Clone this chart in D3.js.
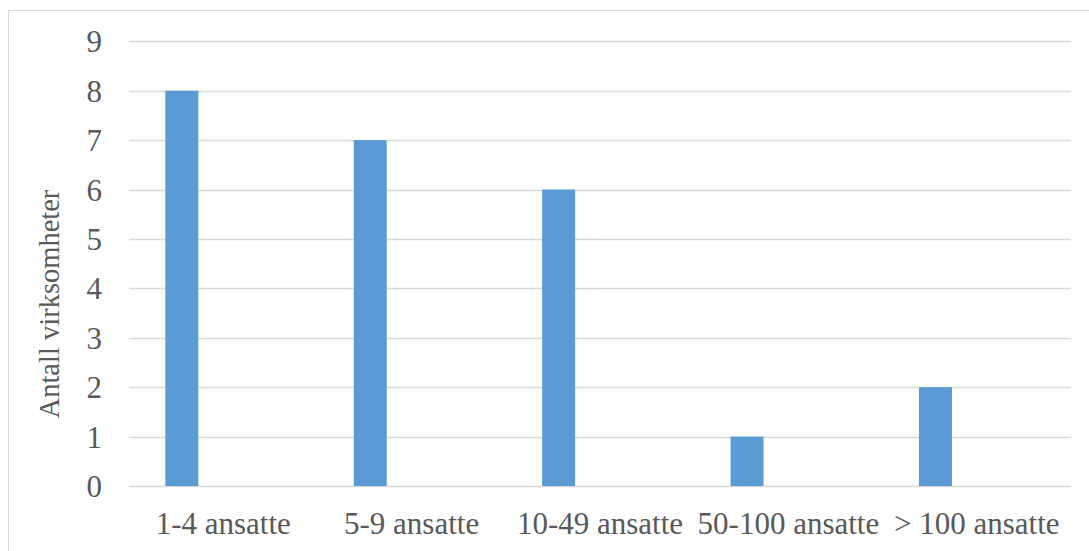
<!DOCTYPE html>
<html>
<head>
<meta charset="utf-8">
<script src="https://cdn.jsdelivr.net/npm/d3@7"></script>
<style>
  html, body { margin: 0; padding: 0; background: #fff; }
  svg { display: block; }
  svg text { font-family: "Liberation Serif", "Times New Roman", Times, "DejaVu Serif", serif; }
</style>
</head>
<body>
<svg id="chart" width="1089" height="551"></svg>
<script>
const categories = ["1-4 ansatte", "5-9 ansatte", "10-49 ansatte", "50-100 ansatte", "> 100 ansatte"];
const values = [8, 7, 6, 1, 2];
const yTicks = [0, 1, 2, 3, 4, 5, 6, 7, 8, 9];
const yTitle = "Antall virksomheter";

const W = 1089, H = 551;
const margin = { left: 129, right: 18, top: 41, bottom: 65 };
const svg = d3.select("#chart");
const font = '"Liberation Serif", "Times New Roman", Times, "DejaVu Serif", serif';
const textColor = "#595959";

// chart frame
svg.append("rect")
  .attr("x", 8.5).attr("y", 10.5)
  .attr("width", W + 20).attr("height", H + 20)
  .attr("fill", "#fff").attr("stroke", "#d9d9d9").attr("stroke-width", 1);

const x = d3.scaleBand()
  .domain(categories)
  .range([margin.left, W - margin.right])
  .paddingInner(0).paddingOuter(0);

const y = d3.scaleLinear()
  .domain([0, 9])
  .range([486, 41.3]);

// gridlines
svg.append("g")
  .selectAll("line")
  .data(yTicks)
  .join("line")
  .attr("x1", margin.left).attr("x2", W - margin.right)
  .attr("y1", d => Math.round(y(d)) + 0.5)
  .attr("y2", d => Math.round(y(d)) + 0.5)
  .attr("stroke", "#d9d9d9").attr("stroke-width", 1.3);

// bars (first of a clustered pair; offset within band)
const bw = x.bandwidth();
svg.append("g")
  .selectAll("rect")
  .data(values)
  .join("rect")
  .attr("x", (d, i) => x(categories[i]) + bw * 0.193)
  .attr("width", bw * 0.175)
  .attr("y", d => y(d))
  .attr("height", d => y(0) - y(d))
  .attr("fill", "#5b9bd5");

// y tick labels
const yAxis = d3.axisLeft(y).tickValues(yTicks).tickSize(0).tickPadding(0);
const gy = svg.append("g")
  .attr("transform", `translate(${102},0)`)
  .call(yAxis)
  .attr("font-family", null)
  .attr("font-size", null);
gy.select(".domain").remove();
gy.selectAll("text")
  .style("font-family", font)
  .style("font-size", "31px")
  .attr("fill", textColor)
  .attr("dy", "0.34em");

// x category labels
const xAxis = d3.axisBottom(x).tickSize(0).tickPadding(0);
const gx = svg.append("g")
  .attr("transform", `translate(0,${534})`)
  .call(xAxis)
  .attr("font-family", null)
  .attr("font-size", null);
gx.select(".domain").remove();
gx.selectAll("text")
  .style("font-family", font)
  .style("font-size", "31px")
  .attr("fill", textColor)
  .attr("dy", "0");

// y title
svg.append("text")
  .attr("transform", `translate(59,${304}) rotate(-90)`)
  .attr("text-anchor", "middle")
  .style("font-family", font)
  .style("font-size", "28.5px")
  .attr("fill", textColor)
  .text(yTitle);
</script>
</body>
</html>
